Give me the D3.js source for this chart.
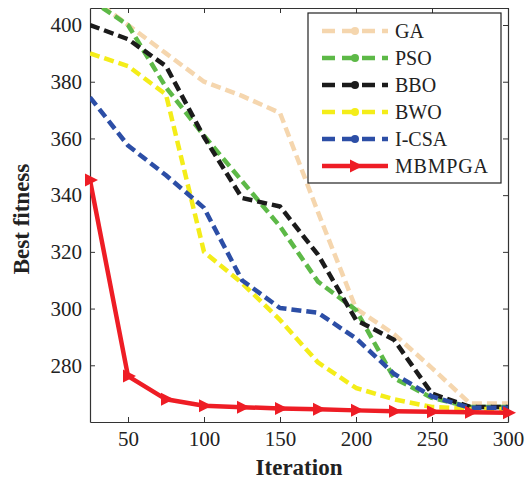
<!DOCTYPE html>
<html>
<head>
<meta charset="utf-8">
<script src="https://cdn.jsdelivr.net/npm/d3@7"></script>
<style>
  body { margin: 0; background: #fff; }
  svg { display: block; }
</style>
</head>
<body>
<script>
// iterations on the x axis
let iterations = [25, 50, 75, 100, 125, 150, 175, 200, 225, 250, 275, 300];

// best fitness per algorithm
let GA     = [410, 400, 390, 380, 375, 369, 334, 300, 291, 279, 266.5, 266.5];
let PSO    = [409, 400, 378, 361, 345, 329, 309.5, 299.5, 275.5, 268.5, 265.3, 265.3];
let BBO    = [400, 395, 385.5, 360.5, 339, 336, 319, 296, 289, 270, 265.3, 265.3];
let BWO    = [390, 385.5, 375.5, 320, 309, 296, 281, 272, 268, 265.3, 264.6, 264.6];
let ICSA   = [374.5, 357.5, 347, 335.5, 310, 300.2, 298.5, 289.5, 277, 269, 265, 265];
let MBMPGA = [345.3, 276.2, 268, 265.7, 265.2, 264.8, 264.5, 264.1, 263.8, 263.6, 263.4, 263.3];

let names  = ["GA", "PSO", "BBO", "BWO", "I-CSA", "MBMPGA"];
let colors = ["#f5d6ae", "#5db947", "#1b1b1b", "#f4ed19", "#2c4ea6", "#ee1d25"];
let series = [GA, PSO, BBO, BWO, ICSA, MBMPGA];

let xTicks = [50, 100, 150, 200, 250, 300];
let yTicks = [280, 300, 320, 340, 360, 380, 400];

let W = 526, H = 481;
let pad = {"top": 8, "right": 18, "bottom": 59, "left": 90};
let font = "'Liberation Serif', 'Times New Roman', serif";

const svg = d3.select("body")
  .append("svg")
  .attr("width", W)
  .attr("height", H);

svg.append("rect").attr("width", W).attr("height", H).attr("fill", "#fff");

let xscale = d3.scaleLinear()
  .domain([25, 300])
  .range([pad.left, W - pad.right]);

let yscale = d3.scaleLinear()
  .domain([260, 406])
  .range([H - pad.bottom, pad.top]);

svg.append("clipPath")
  .attr("id", "clip")
  .append("rect")
  .attr("x", pad.left)
  .attr("y", pad.top)
  .attr("width", W - pad.left - pad.right)
  .attr("height", H - pad.top - pad.bottom);

// axes, ticks pointing inward (matlab style)
function styleAxis(g) {
  g.selectAll("text")
    .style("font-family", font)
    .style("font-size", "21px")
    .attr("fill", "#222");
  g.selectAll("line").attr("stroke", "#333");
  g.select(".domain").attr("stroke", "#333").attr("stroke-width", 1.2);
}

svg.append("g")
  .attr("transform", "translate(0," + (H - pad.bottom) + ")")
  .call(d3.axisBottom(xscale).tickValues(xTicks).tickSizeInner(-5).tickSizeOuter(0).tickPadding(9))
  .call(styleAxis);

svg.append("g")
  .attr("transform", "translate(" + pad.left + ",0)")
  .call(d3.axisLeft(yscale).tickValues(yTicks).tickSizeInner(-5).tickSizeOuter(0).tickPadding(8))
  .call(styleAxis);

svg.append("g")
  .attr("transform", "translate(0," + pad.top + ")")
  .call(d3.axisTop(xscale).tickValues(xTicks).tickSizeInner(-5).tickSizeOuter(0).tickFormat(""))
  .call(styleAxis);

svg.append("g")
  .attr("transform", "translate(" + (W - pad.right) + ",0)")
  .call(d3.axisRight(yscale).tickValues(yTicks).tickSizeInner(-5).tickSizeOuter(0).tickFormat(""))
  .call(styleAxis);

// lines
let line = d3.line()
  .x((d, i) => xscale(iterations[i]))
  .y((d) => yscale(d));

let plot = svg.append("g").attr("clip-path", "url(#clip)");

series.forEach((s, k) => {
  plot.append("path")
    .datum(s)
    .attr("d", line)
    .attr("fill", "none")
    .attr("stroke", colors[k])
    .attr("stroke-width", 4.5)
    .attr("stroke-linejoin", "round")
    .attr("stroke-dasharray", k == 5 ? null : "10,5");
});

// triangle markers on MBMPGA
let tri = "M-5,-6.5 L8,0 L-5,6.5 Z";
svg.append("g")
  .selectAll("path")
  .data(MBMPGA)
  .enter()
  .append("path")
  .attr("d", tri)
  .attr("transform", (d, i) => "translate(" + xscale(iterations[i]) + "," + yscale(d) + ")")
  .attr("fill", colors[5]);

// legend
let lx = 308, ly = 13, lw = 193, lh = 170;
let legend = svg.append("g").attr("id", "legend");
legend.append("rect")
  .attr("x", lx).attr("y", ly)
  .attr("width", lw).attr("height", lh)
  .attr("fill", "#fff")
  .attr("stroke", "#222")
  .attr("stroke-width", 1.2);

names.forEach((n, k) => {
  let y = ly + 18 + k * 27;
  legend.append("line")
    .attr("x1", lx + 14).attr("x2", lx + 80)
    .attr("y1", y).attr("y2", y)
    .attr("stroke", colors[k])
    .attr("stroke-width", 4.5)
    .attr("stroke-dasharray", k == 5 ? null : "13,7");
  if (k == 5) {
    legend.append("path")
      .attr("d", tri)
      .attr("transform", "translate(" + (lx + 47) + "," + y + ")")
      .attr("fill", colors[k]);
  } else {
    legend.append("circle")
      .attr("cx", lx + 47).attr("cy", y)
      .attr("r", 4)
      .attr("fill", colors[k]);
  }
  legend.append("text")
    .text(n)
    .attr("x", lx + 87)
    .attr("y", y + 7)
    .style("font-family", font)
    .style("font-size", "20px")
    .style("letter-spacing", k == 5 ? "0.8px" : null)
    .attr("fill", "#222");
});

// axis titles
svg.append("text")
  .text("Iteration")
  .attr("x", (pad.left + W - pad.right) / 2)
  .attr("y", 475)
  .attr("text-anchor", "middle")
  .style("font-family", font)
  .style("font-size", "23px")
  .style("font-weight", "bold")
  .attr("fill", "#222");

svg.append("text")
  .text("Best fitness")
  .attr("transform", "translate(29," + 219 + ") rotate(-90)")
  .attr("text-anchor", "middle")
  .style("font-family", font)
  .style("font-size", "23px")
  .style("font-weight", "bold")
  .attr("fill", "#222");
</script>
</body>
</html>
